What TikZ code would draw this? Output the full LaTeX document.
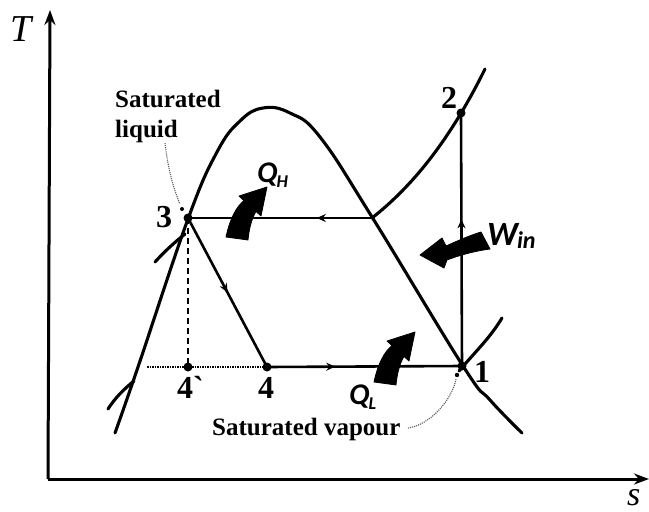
\documentclass[tikz,border=0pt]{standalone}
\usepackage{fontspec}
\setmainfont{Liberation Serif}
\newfontfamily\calfont{Carlito}
\usetikzlibrary{arrows.meta,decorations.markings}
\tikzset{
  fatQ/.pic={\fill[black,draw=black,line width=0.8pt,line join=round]
    (-11,-1) .. controls (-7,-20) and (0,-32) .. (7,-37.4) -- (2,-42) -- (30,-51)
    -- (24,-22) -- (19,-26.6) .. controls (14,-18) and (12,-8) .. (11,2) -- cycle;}
}
\begin{document}
\begin{tikzpicture}[x=1pt,y=-1pt,
  axis/.style={line width=3pt,-{Stealth[length=15pt,width=11pt]}},
  dome/.style={line width=3.1pt,line cap=round},
  cyc/.style={line width=2.6pt},
  midarrow/.style={postaction={decorate},decoration={markings,mark=at position #1 with {\arrow{Stealth[length=9pt,width=8pt]}}}},
  pt/.style={circle,fill,inner sep=0pt,minimum size=9pt},
  num/.style={font=\fontsize{32}{32}\selectfont\bfseries,inner sep=0pt,anchor=base west},
  lab/.style={font=\fontsize{25}{25}\selectfont\bfseries,inner sep=0pt,anchor=base west},
  qlab/.style={font=\calfont\bfseries\itshape,inner sep=0pt,anchor=base west},
  leader/.style={densely dotted,line width=1.1pt,gray!70!black}
]
\useasboundingbox (0,0) rectangle (649,512);
% axes
\coordinate (O) at (50,479);
\coordinate (Ttop) at (50,10);
\coordinate (Send) at (649,479);
\draw[axis] (48,479) -- (Ttop);
\draw[axis] (48,479) -- (Send);
\node[font=\fontsize{38}{38}\selectfont\itshape,inner sep=0pt,anchor=base west] (Tl) at (10,41) {T};
\node[font=\fontsize{34}{34}\selectfont\itshape,inner sep=0pt,anchor=base west] (sl) at (627,505) {s};
% dome
\draw[dome] plot[smooth,tension=0.7] coordinates {(115,433) (138,367) (188,219) (217,152) (240,121) (263,108) (290,113) (320,137) (372,217) (463,366) (490,400) (522,433)};
% isobars
\draw[dome] (155,262) .. controls (165,251) and (175,242) .. (185,234);
\draw[dome] (372,218) .. controls (405,192) and (445,150) .. (485,69);
\draw[dome] (108,409) .. controls (115,398) and (124,389) .. (134,381);
\draw[dome] (459,371) .. controls (475,352) and (490,338) .. (502,318);
% points
\node[pt] (p3) at (188,218) {};
\node[pt] (p2) at (461,113) {};
\node[pt] (p1) at (462,366) {};
\node[pt] (p4) at (267,367) {};
\node[pt] (p4p) at (188,367) {};
\coordinate (X) at (372,218);
\coordinate (L) at (147,367);
% cycle
\draw[cyc,midarrow=0.3] (X) -- (p3.center);
\draw[cyc,midarrow=0.5] (p3.center) -- (p4.center);
\draw[cyc,midarrow=0.35] (p4.center) -- (p1.center);
\draw[cyc,midarrow=0.58] (p1.center) -- (p2.center);
\draw[line width=2.6pt,dash pattern=on 6pt off 4pt] (p3.center) -- (p4p.center);
\draw[line width=1.5pt,densely dotted] (L) -- (p4.center);
% leaders
\draw[leader] (165,143) .. controls (168,170) and (174,190) .. (180,204);
\fill (182,209) circle (2pt);
\draw[leader] (408,428) .. controls (430,425) and (452,400) .. (456,379);
\fill (457,375) circle (2.2pt);
% labels
\node[lab] (sat1) at (115,107) {Saturated};
\node[lab] (sat2) at (115,137) {liquid};
\node[lab] (satv) at (212,435) {Saturated vapour};
\node[num] (n3) at (156,227) {3};
\node[num] (n2) at (441,108) {2};
\node[num] (n1) at (474,382) {1};
\node[num] (n4) at (258,398) {4};
\node[num] (n4p) at (177,398) {4\textasciigrave};
% heat / work arrows
\pic at (237,238) {fatQ};
\pic at (385,383) {fatQ};
\fill[black,draw=black,line width=0.8pt,line join=round]
  (481,232) .. controls (468,236) and (455,242) .. (446,246) -- (442,238) -- (420,255)
  -- (444,268) -- (447,260) .. controls (460,255) and (475,251) .. (490,249) -- cycle;
\node[qlab,font=\calfont\bfseries\itshape\fontsize{30}{30}\selectfont] (QH) at (257,182) {Q\kern-1pt\raisebox{-5pt}{\fontsize{18}{18}\selectfont H}};
\node[qlab,font=\calfont\bfseries\itshape\fontsize{30}{30}\selectfont] (QL) at (349,404) {Q\kern-1pt\raisebox{-5pt}{\fontsize{18}{18}\selectfont L}};
\node[qlab,font=\calfont\bfseries\itshape\fontsize{34}{34}\selectfont] (W) at (487,245) {W\kern-1pt\raisebox{-3pt}{\fontsize{24}{24}\selectfont in}};
\end{tikzpicture}
\end{document}
